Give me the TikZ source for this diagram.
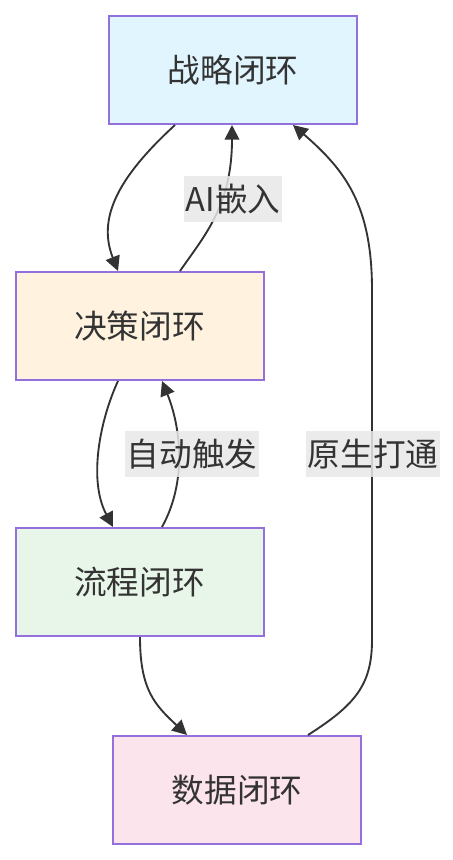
\documentclass[tikz,border=0pt]{standalone}
\usepackage{fontspec}
\setmainfont{Noto Sans CJK SC}
\usetikzlibrary{arrows.meta,calc}
\definecolor{edgec}{HTML}{333333}
\definecolor{bordc}{HTML}{9370DB}
\definecolor{cblue}{HTML}{E1F5FE}
\definecolor{corange}{HTML}{FFF3E0}
\definecolor{cgreen}{HTML}{E8F5E9}
\definecolor{cpink}{HTML}{FCE4EC}
\definecolor{lblbg}{HTML}{E8E8E8}
\tikzset{
  box/.style={draw=bordc, line width=1.5pt, rectangle, minimum width=186pt, minimum height=81pt, inner sep=0pt, text=edgec, font=\fontsize{24.5}{28}\selectfont},
  conn/.style={draw=edgec, line width=1.4pt, -{Triangle[length=11pt,width=11pt]}},
  lbl/.style={fill=lblbg, fill opacity=0.85, text opacity=1, text=edgec, inner xsep=1pt, inner ysep=0pt, minimum height=35pt, font=\fontsize{24.5}{28}\selectfont}
}
\begin{document}
\begin{tikzpicture}[x=0.75pt,y=-0.75pt]
\useasboundingbox (0,0) rectangle (453,860);
\node[box, fill=cblue] (s) at (233,70) {战略闭环};
\node[box, fill=corange] (d) at (139.5,326) {决策闭环};
\node[box, fill=cgreen] (p) at (139.5,582) {流程闭环};
\node[box, fill=cpink] (g) at (237,790) {数据闭环};
% s -> d
\draw[conn] ($(s.south)+(-58,0)$) .. controls (115,180) and (98,220) .. ($(d.north)+(-21.5,0)$);
% d -> s
\draw[conn] ($(d.north)+(40.5,0)$) .. controls (205,235) and (232,205) .. ($(s.south)+(-1,0)$);
% d -> p
\draw[conn] ($(d.south)+(-21.5,0)$) .. controls (100,420) and (88,480) .. ($(p.north)+(-26.5,0)$);
% p -> d
\draw[conn] ($(p.north)+(22.5,0)$) .. controls (188,480) and (180,425) .. ($(d.south)+(22.5,0)$);
% p -> g
\draw[conn] ($(p.south)+(0.5,0)$) .. controls (140,690) and (155,705) .. ($(g.north)+(-50,0)$);
% g -> s
\coordinate (r1) at (372,640);
\coordinate (r2) at (372,290);
\draw[conn] ($(g.north)+(71,0)$) .. controls (355,705) and (372,685) .. (r1) -- (r2) .. controls (372,205) and (345,170) .. ($(s.south)+(60,0)$);
\node[lbl] (l1) at (233,199) {AI嵌入};
\node[lbl] (l2) at (192,454) {自动触发};
\node[lbl] (l3) at (373,454) {原生打通};
\end{tikzpicture}
\end{document}
